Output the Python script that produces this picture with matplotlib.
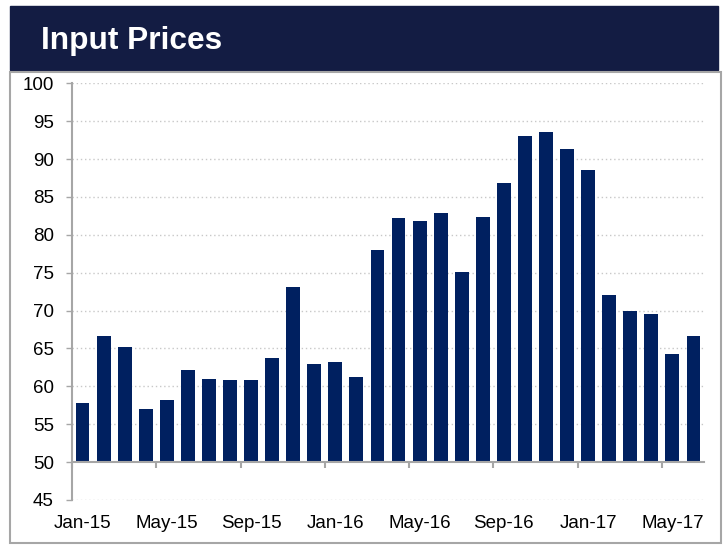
import matplotlib
matplotlib.use("Agg")
import matplotlib.pyplot as plt
from matplotlib.patches import Rectangle
import numpy as np

plt.rcParams["font.family"] = ["Liberation Sans", "DejaVu Sans"]

# ---- data ----
months = ["Jan-15", "Feb-15", "Mar-15", "Apr-15", "May-15", "Jun-15",
          "Jul-15", "Aug-15", "Sep-15", "Oct-15", "Nov-15", "Dec-15",
          "Jan-16", "Feb-16", "Mar-16", "Apr-16", "May-16", "Jun-16",
          "Jul-16", "Aug-16", "Sep-16", "Oct-16", "Nov-16", "Dec-16",
          "Jan-17", "Feb-17", "Mar-17", "Apr-17", "May-17", "Jun-17"]
values = [57.8, 66.7, 65.2, 57.0, 58.2, 62.2,
          61.0, 60.8, 60.9, 63.8, 73.1, 63.0,
          63.2, 61.3, 78.0, 82.2, 81.8, 82.9,
          75.1, 82.4, 86.8, 93.1, 93.6, 91.3,
          88.5, 72.0, 70.0, 69.5, 64.3, 66.7]
title = "Input Prices"
yticks = [45, 50, 55, 60, 65, 70, 75, 80, 85, 90, 95, 100]

navy_bar = "#002060"
navy_banner = "#131c43"
gray = "#a6a6a6"

W, H = 725, 546
fig = plt.figure(figsize=(W / 100, H / 100), dpi=100)

# banner and chart frame (figure pixel coords)
fig.patches.append(Rectangle((10 / W, 1 - 70 / H), 708 / W, 64 / H,
                             transform=fig.transFigure, color=navy_banner, zorder=0))
fig.patches.append(Rectangle((10 / W, 1 - 543 / H), 711 / W, 471 / H,
                             transform=fig.transFigure, fill=False,
                             edgecolor=gray, linewidth=1.5, zorder=0))
fig.text(41 / W, 1 - 49.5 / H, title, color="white", fontsize=22.8,
         fontweight="bold", va="baseline", ha="left")

ax = fig.add_axes([72 / W, 1 - 500 / H, 632 / W, 416.7 / H])
x = np.arange(len(months))
ax.bar(x, np.array(values) - 50, bottom=50, width=0.66, color=navy_bar, zorder=2)

ax.set_xlim(-0.5, len(months) - 0.5)
ax.set_ylim(45, 100)
ax.set_yticks(yticks)
ax.tick_params(axis="y", labelsize=13.5, length=4, color=gray, width=1, pad=9)

# dotted gridlines (the 50 line is the axis itself)
for v in yticks:
    if v != 50:
        ax.axhline(v, color="#c8c8c8", linestyle=(0, (1, 2)), linewidth=1, zorder=1)

for s in ["top", "right"]:
    ax.spines[s].set_visible(False)
ax.spines["left"].set_color(gray)
ax.spines["left"].set_linewidth(1.5)
ax.spines["bottom"].set_position(("data", 50))
ax.spines["bottom"].set_color(gray)
ax.spines["bottom"].set_linewidth(1.5)

ax.set_xticks(x[::4])
ax.set_xticklabels(months[::4])
ax.set_xticks(x[::4] - 0.5, minor=True)
ax.tick_params(axis="x", which="major", length=0, labelsize=13.5, pad=38)
ax.tick_params(axis="x", which="minor", length=4, color=gray, width=1.5)

fig.savefig("out.png", dpi=100)
